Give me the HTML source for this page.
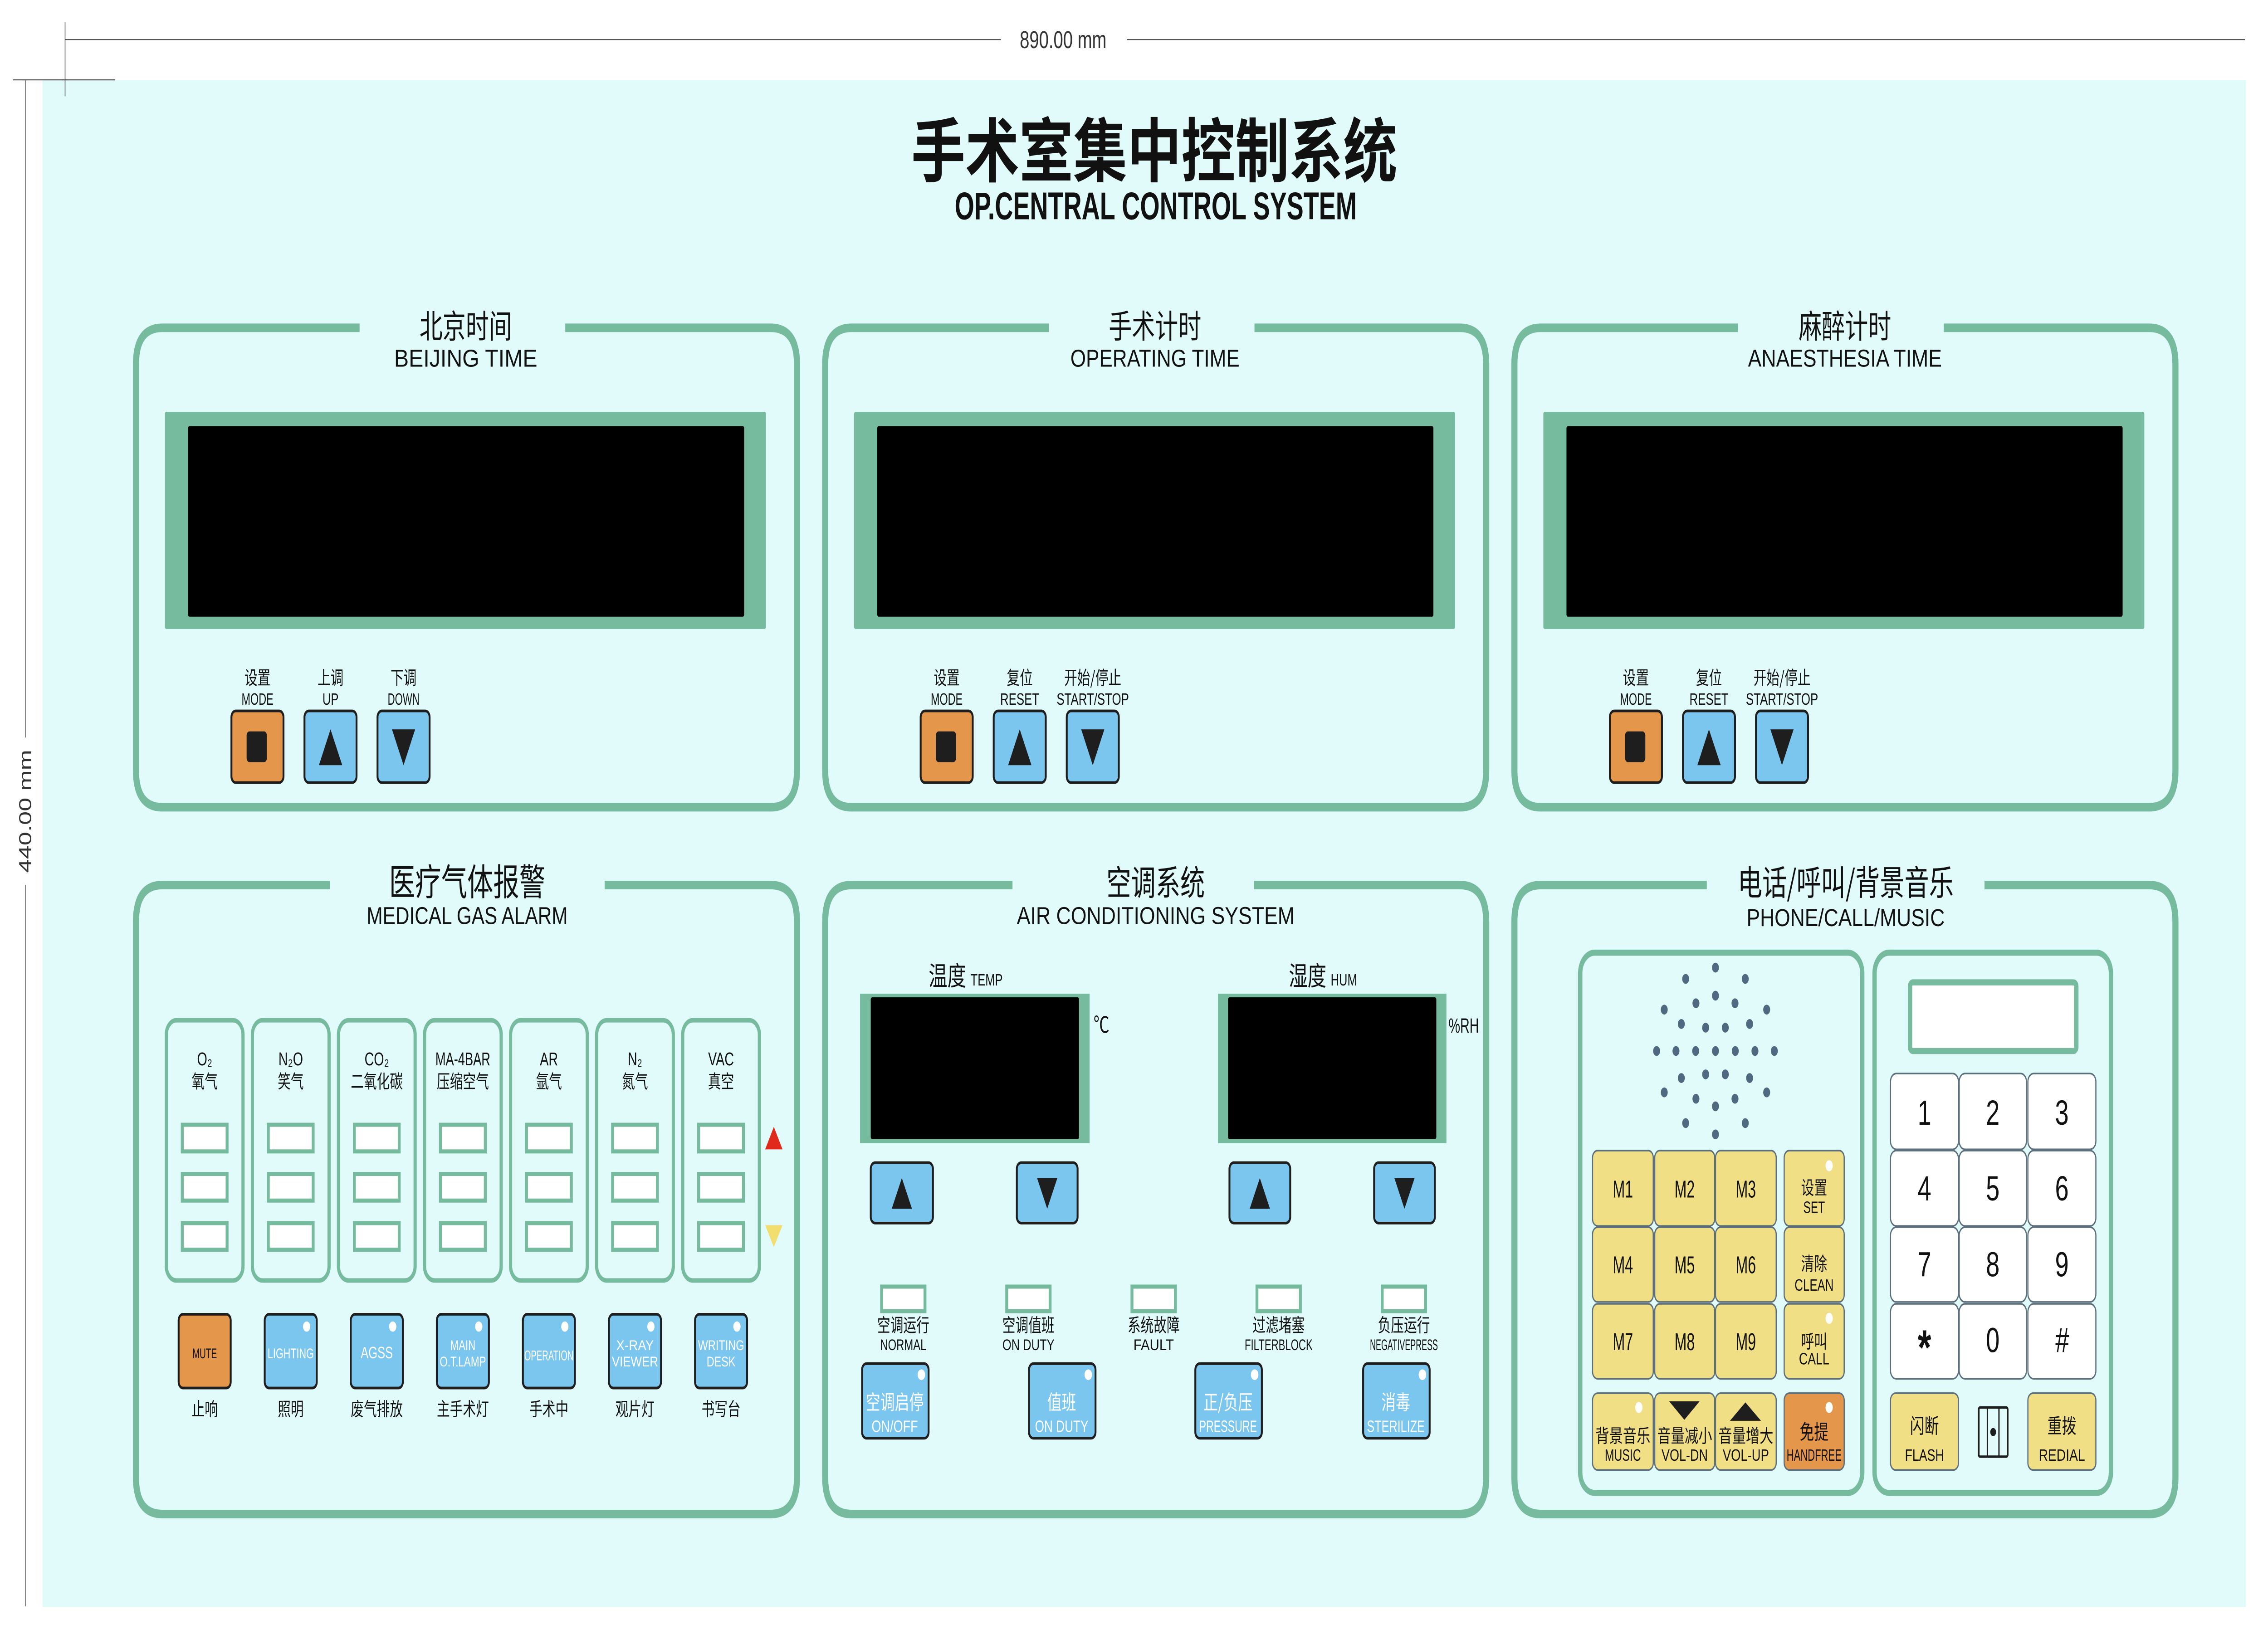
<!DOCTYPE html>
<html><head><meta charset="utf-8"><style>
html,body{margin:0;padding:0;background:#fff;width:100%;height:100%;overflow:hidden;}
svg{display:block;width:100vw;height:100vh;}
text{font-family:"Liberation Sans","Noto Sans CJK SC",sans-serif;}
.cn{font-family:"Noto Sans CJK SC","WenQuanYi Zen Hei",sans-serif;}
.pn{fill:none;stroke:#77bb9f;stroke-width:4.2;}
.g{fill:#77bb9f;}
.bl{fill:#7ac6ef;stroke:#1e1e1e;stroke-width:1.3;}
.or{fill:#e4964b;stroke:#1e1e1e;stroke-width:1.3;}
.ye{fill:#f1df85;stroke:#5c6f7c;stroke-width:0.8;}
.wk{fill:#fff;stroke:#5c6f7c;stroke-width:0.8;}
.lb{fill:#fff;stroke:#77bb9f;stroke-width:2;}
.col{fill:none;stroke:#77bb9f;stroke-width:2.2;}
</style></head><body>
<svg viewBox="0 0 1568 800" preserveAspectRatio="none" xmlns="http://www.w3.org/2000/svg">
<rect x="0" y="0" width="1568" height="800" fill="#fff"/>
<rect x="29.4" y="39" width="1523.4" height="745.5" fill="#e0fbfa"/>
<g stroke="#555" stroke-width="0.5" fill="none">
<line x1="45" y1="10.7" x2="45" y2="47"/>
<line x1="45" y1="19.3" x2="692" y2="19.3"/>
<line x1="779" y1="19.3" x2="1552" y2="19.3"/>
<line x1="9" y1="39" x2="79.6" y2="39"/>
<line x1="17.5" y1="39" x2="17.5" y2="360"/>
<line x1="17.5" y1="432" x2="17.5" y2="784"/>
</g>
<text x="735" y="23.5" font-size="12" text-anchor="middle" fill="#333">890.00 mm</text>
<text x="21.5" y="396" font-size="12" text-anchor="middle" fill="#333" transform="rotate(-90 21.5 396)">440.00 mm</text>

<text class="cn" x="798" y="86" font-size="34" font-weight="bold" text-anchor="middle" fill="#111" textLength="336" lengthAdjust="spacingAndGlyphs">手术室集中控制系统</text>
<text x="799" y="107" font-size="19" font-weight="bold" text-anchor="middle" fill="#111" textLength="278" lengthAdjust="spacingAndGlyphs">OP.CENTRAL CONTROL SYSTEM</text>

<g id="tp1">
<path class="pn" d="M248.6,160 H112 Q94,160 94,178 V376 Q94,394 112,394 H533 Q551,394 551,376 V178 Q551,160 533,160 H390.8"/>
<rect class="g" x="114" y="201" width="415.5" height="106" rx="1"/>
<rect x="130" y="208" width="384.5" height="93" fill="#000" rx="1"/>
<rect class="or" x="160" y="347" width="36" height="35" rx="3"/>
<rect x="170.5" y="357" width="14" height="15" rx="2" fill="#1e1e1e"/>
<rect class="bl" x="210.5" y="347" width="36" height="35" rx="3"/>
<polygon points="220.5,373.5 236.6,373.5 228.5,356" fill="#1e1e1e"/>
<rect class="bl" x="261" y="347" width="36" height="35" rx="3"/>
<polygon points="271,356 287,356 279,373.5" fill="#1e1e1e"/>
</g>
<use href="#tp1" transform="translate(476.5,0)"/>
<use href="#tp1" transform="translate(953,0)"/>

<g fill="#111" text-anchor="middle">
<text class="cn" x="322" y="165" font-size="16">北京时间</text>
<text x="322" y="179" font-size="12" textLength="99" lengthAdjust="spacingAndGlyphs">BEIJING TIME</text>
<text class="cn" x="798.5" y="165" font-size="16">手术计时</text>
<text x="798.5" y="179" font-size="12" textLength="117" lengthAdjust="spacingAndGlyphs">OPERATING TIME</text>
<text class="cn" x="1275.5" y="165" font-size="16">麻醉计时</text>
<text x="1275.5" y="179" font-size="12" textLength="134" lengthAdjust="spacingAndGlyphs">ANAESTHESIA TIME</text>
</g>
<g fill="#111" text-anchor="middle" font-size="8">
<text class="cn" x="178" y="334" font-size="9">设置</text><text x="178" y="344" textLength="22" lengthAdjust="spacingAndGlyphs">MODE</text>
<text class="cn" x="228.5" y="334" font-size="9">上调</text><text x="228.5" y="344">UP</text>
<text class="cn" x="279" y="334" font-size="9">下调</text><text x="279" y="344" textLength="22" lengthAdjust="spacingAndGlyphs">DOWN</text>
<text class="cn" x="654.5" y="334" font-size="9">设置</text><text x="654.5" y="344" textLength="22" lengthAdjust="spacingAndGlyphs">MODE</text>
<text class="cn" x="705" y="334" font-size="9">复位</text><text x="705" y="344" textLength="27" lengthAdjust="spacingAndGlyphs">RESET</text>
<text class="cn" x="755.5" y="334" font-size="9">开始/停止</text><text x="755.5" y="344" textLength="50" lengthAdjust="spacingAndGlyphs">START/STOP</text>
<text class="cn" x="1131" y="334" font-size="9">设置</text><text x="1131" y="344" textLength="22" lengthAdjust="spacingAndGlyphs">MODE</text>
<text class="cn" x="1181.5" y="334" font-size="9">复位</text><text x="1181.5" y="344" textLength="27" lengthAdjust="spacingAndGlyphs">RESET</text>
<text class="cn" x="1232" y="334" font-size="9">开始/停止</text><text x="1232" y="344" textLength="50" lengthAdjust="spacingAndGlyphs">START/STOP</text>
</g>

<path class="pn" d="M228,432 H112 Q94,432 94,450 V721 Q94,739 112,739 H533 Q551,739 551,721 V450 Q551,432 533,432 H418"/>
<path class="pn" d="M700,432 H588.5 Q570.5,432 570.5,450 V721 Q570.5,739 588.5,739 H1009.5 Q1027.5,739 1027.5,721 V450 Q1027.5,432 1009.5,432 H867"/>
<path class="pn" d="M1180,432 H1065 Q1047,432 1047,450 V721 Q1047,739 1065,739 H1486 Q1504,739 1504,721 V450 Q1504,432 1486,432 H1372"/>

<g fill="#111" text-anchor="middle">
<text class="cn" x="323" y="437" font-size="18">医疗气体报警</text>
<text x="323" y="451" font-size="12" textLength="139" lengthAdjust="spacingAndGlyphs">MEDICAL GAS ALARM</text>
<text class="cn" x="799" y="437" font-size="17">空调系统</text>
<text x="799" y="451" font-size="12" textLength="192" lengthAdjust="spacingAndGlyphs">AIR CONDITIONING SYSTEM</text>
<text class="cn" x="1276" y="437" font-size="17">电话/呼叫/背景音乐</text>
<text x="1276" y="452" font-size="12" textLength="137" lengthAdjust="spacingAndGlyphs">PHONE/CALL/MUSIC</text>
</g>

<g id="gc">
<rect class="col" x="115" y="498" width="53" height="127" rx="7"/>
<rect class="lb" x="126" y="549" width="31" height="13"/>
<rect class="lb" x="126" y="573" width="31" height="13"/>
<rect class="lb" x="126" y="597" width="31" height="13"/>
</g>
<use href="#gc" transform="translate(59.5,0)"/>
<use href="#gc" transform="translate(119,0)"/>
<use href="#gc" transform="translate(178.5,0)"/>
<use href="#gc" transform="translate(238,0)"/>
<use href="#gc" transform="translate(297.5,0)"/>
<use href="#gc" transform="translate(357,0)"/>
<polygon points="529,561 541,561 535,550" fill="#e02a1c"/>
<polygon points="529,598 541,598 535,608.7" fill="#f2dd6f"/>
<g fill="#111" text-anchor="middle" font-size="9">
<text x="141.5" y="520">O₂</text><text class="cn" x="141.5" y="531">氧气</text>
<text x="201" y="520">N₂O</text><text class="cn" x="201" y="531">笑气</text>
<text x="260.5" y="520">CO₂</text><text class="cn" x="260.5" y="531">二氧化碳</text>
<text x="320" y="520" textLength="38" lengthAdjust="spacingAndGlyphs">MA-4BAR</text><text class="cn" x="320" y="531">压缩空气</text>
<text x="379.5" y="520">AR</text><text class="cn" x="379.5" y="531">氩气</text>
<text x="439" y="520">N₂</text><text class="cn" x="439" y="531">氮气</text>
<text x="498.5" y="520">VAC</text><text class="cn" x="498.5" y="531">真空</text>
</g>
<rect class="or" x="123.5" y="641.5" width="36" height="36" rx="3"/>
<g id="gb"><rect class="bl" x="183" y="641.5" width="36" height="36" rx="3"/><circle cx="212" cy="647.5" r="2.5" fill="#fff"/></g>
<use href="#gb" transform="translate(59.5,0)"/>
<use href="#gb" transform="translate(119,0)"/>
<use href="#gb" transform="translate(178.5,0)"/>
<use href="#gb" transform="translate(238,0)"/>
<use href="#gb" transform="translate(297.5,0)"/>
<g text-anchor="middle" font-size="7">
<text x="141.5" y="663" fill="#111" textLength="17" lengthAdjust="spacingAndGlyphs">MUTE</text>
<g fill="#fff">
<text x="201" y="663" textLength="32" lengthAdjust="spacingAndGlyphs">LIGHTING</text>
<text x="260.5" y="663" font-size="8">AGSS</text>
<text x="320" y="659">MAIN</text><text x="320" y="667" textLength="32" lengthAdjust="spacingAndGlyphs">O.T.LAMP</text>
<text x="379.5" y="664" textLength="34" lengthAdjust="spacingAndGlyphs">OPERATION</text>
<text x="439" y="659" textLength="26" lengthAdjust="spacingAndGlyphs">X-RAY</text><text x="439" y="667" textLength="32" lengthAdjust="spacingAndGlyphs">VIEWER</text>
<text x="498.5" y="659" textLength="32" lengthAdjust="spacingAndGlyphs">WRITING</text><text x="498.5" y="667" textLength="20" lengthAdjust="spacingAndGlyphs">DESK</text>
</g>
<g fill="#111" font-size="9">
<text class="cn" x="141.5" y="691">止响</text>
<text class="cn" x="201" y="691">照明</text>
<text class="cn" x="260.5" y="691">废气排放</text>
<text class="cn" x="320" y="691">主手术灯</text>
<text class="cn" x="379.5" y="691">手术中</text>
<text class="cn" x="439" y="691">观片灯</text>
<text class="cn" x="498.5" y="691">书写台</text>
</g>
</g>

<text class="cn" x="642" y="481" font-size="13" fill="#111">温度<tspan font-family="Liberation Sans" font-size="8" dx="3">TEMP</tspan></text>
<text class="cn" x="891" y="481" font-size="13" fill="#111">湿度<tspan font-family="Liberation Sans" font-size="8" dx="3">HUM</tspan></text>
<rect class="g" x="594.6" y="485" width="158.7" height="73"/>
<rect x="602" y="486.8" width="144" height="69.2" fill="#000" rx="1"/>
<rect class="g" x="842" y="485" width="158" height="73"/>
<rect x="849" y="486.8" width="144" height="69.2" fill="#000" rx="1"/>
<text x="756" y="504" font-size="11" fill="#111">℃</text>
<text x="1001.5" y="504" font-size="10" fill="#111" textLength="21" lengthAdjust="spacingAndGlyphs">%RH</text>
<rect class="bl" x="602" y="567.5" width="43" height="29.5" rx="3"/>
<polygon points="616.5,590 630.5,590 623.5,575" fill="#1e1e1e"/>
<rect class="bl" x="703" y="567.5" width="42" height="29.5" rx="3"/>
<polygon points="717,575 731,575 724,590" fill="#1e1e1e"/>
<rect class="bl" x="850" y="567.5" width="42" height="29.5" rx="3"/>
<polygon points="864,590 878,590 871,575" fill="#1e1e1e"/>
<rect class="bl" x="950" y="567.5" width="42" height="29.5" rx="3"/>
<polygon points="964,575 978,575 971,590" fill="#1e1e1e"/>
<rect class="lb" x="609.5" y="628" width="30" height="12"/>
<rect class="lb" x="696" y="628" width="30" height="12"/>
<rect class="lb" x="782.6" y="628" width="30" height="12"/>
<rect class="lb" x="869" y="628" width="30" height="12"/>
<rect class="lb" x="955.6" y="628" width="30" height="12"/>
<g fill="#111" text-anchor="middle">
<g font-size="9">
<text class="cn" x="624.5" y="650">空调运行</text>
<text class="cn" x="711" y="650">空调值班</text>
<text class="cn" x="797.6" y="650">系统故障</text>
<text class="cn" x="884" y="650">过滤堵塞</text>
<text class="cn" x="970.6" y="650">负压运行</text>
</g>
<g font-size="7.5">
<text x="624.5" y="659" textLength="32" lengthAdjust="spacingAndGlyphs">NORMAL</text>
<text x="711" y="659" textLength="36" lengthAdjust="spacingAndGlyphs">ON DUTY</text>
<text x="797.6" y="659" textLength="28" lengthAdjust="spacingAndGlyphs">FAULT</text>
<text x="884" y="659" textLength="47" lengthAdjust="spacingAndGlyphs">FILTERBLOCK</text>
<text x="970.6" y="659" textLength="47" lengthAdjust="spacingAndGlyphs">NEGATIVEPRESS</text>
</g>
</g>
<g id="ab"><rect class="bl" x="596" y="665.6" width="46" height="36.4" rx="3"/><circle cx="637" cy="671" r="2.6" fill="#fff"/></g>
<use href="#ab" transform="translate(115.4,0)"/>
<use href="#ab" transform="translate(230.4,0)"/>
<use href="#ab" transform="translate(346.4,0)"/>
<g fill="#fff" text-anchor="middle">
<text class="cn" x="618.6" y="688" font-size="10" textLength="40" lengthAdjust="spacingAndGlyphs">空调启停</text>
<text x="618.6" y="699" font-size="8" textLength="32" lengthAdjust="spacingAndGlyphs">ON/OFF</text>
<text class="cn" x="734" y="688" font-size="10">值班</text>
<text x="734" y="699" font-size="8" textLength="37" lengthAdjust="spacingAndGlyphs">ON DUTY</text>
<text class="cn" x="849" y="688" font-size="10">正/负压</text>
<text x="849" y="699" font-size="8" textLength="40" lengthAdjust="spacingAndGlyphs">PRESSURE</text>
<text class="cn" x="965" y="688" font-size="10">消毒</text>
<text x="965" y="699" font-size="8" textLength="40" lengthAdjust="spacingAndGlyphs">STERILIZE</text>
</g>

<rect x="1092.5" y="465" width="195" height="263.7" rx="10" fill="none" stroke="#77bb9f" stroke-width="3"/>
<rect x="1296" y="465" width="163.4" height="263.7" rx="10" fill="none" stroke="#77bb9f" stroke-width="3"/>
<g fill="#4f6a80" transform="translate(1186,513)">
<circle cx="0" cy="-40.7" r="2.4"/>
<circle cx="-20.6" cy="-35.2" r="2.4"/><circle cx="20.6" cy="-35.2" r="2.4"/>
<circle cx="0" cy="-27" r="2.4"/>
<circle cx="-13.5" cy="-23.3" r="2.4"/><circle cx="13.5" cy="-23.3" r="2.4"/>
<circle cx="-35.4" cy="-20.2" r="2.4"/><circle cx="35.4" cy="-20.2" r="2.4"/>
<circle cx="-23.6" cy="-13.2" r="2.4"/><circle cx="23.6" cy="-13.2" r="2.4"/>
<circle cx="-6.8" cy="-11.4" r="2.4"/><circle cx="6.8" cy="-11.4" r="2.4"/>
<circle cx="-40.7" cy="0" r="2.4"/><circle cx="-27.3" cy="0" r="2.4"/><circle cx="-13.7" cy="0" r="2.4"/><circle cx="0" cy="0" r="2.4"/><circle cx="13.7" cy="0" r="2.4"/><circle cx="27.3" cy="0" r="2.4"/><circle cx="40.7" cy="0" r="2.4"/>
<circle cx="-6.8" cy="11.4" r="2.4"/><circle cx="6.8" cy="11.4" r="2.4"/>
<circle cx="-23.6" cy="13.2" r="2.4"/><circle cx="23.6" cy="13.2" r="2.4"/>
<circle cx="-35.4" cy="20.2" r="2.4"/><circle cx="35.4" cy="20.2" r="2.4"/>
<circle cx="-13.5" cy="23.3" r="2.4"/><circle cx="13.5" cy="23.3" r="2.4"/>
<circle cx="0" cy="27" r="2.4"/>
<circle cx="-20.6" cy="35.2" r="2.4"/><circle cx="20.6" cy="35.2" r="2.4"/>
<circle cx="0" cy="40.7" r="2.4"/>
</g>
<rect class="ye" x="1101" y="561.6" width="42" height="36.8" rx="3.5"/>
<rect class="ye" x="1144" y="561.6" width="41.5" height="36.8" rx="3.5"/>
<rect class="ye" x="1186" y="561.6" width="42" height="36.8" rx="3.5"/>
<rect class="ye" x="1233.5" y="561.6" width="41.5" height="36.8" rx="3.5"/>
<rect class="ye" x="1101" y="599" width="42" height="36.5" rx="3.5"/>
<rect class="ye" x="1144" y="599" width="41.5" height="36.5" rx="3.5"/>
<rect class="ye" x="1186" y="599" width="42" height="36.5" rx="3.5"/>
<rect class="ye" x="1233.5" y="599" width="41.5" height="36.5" rx="3.5"/>
<rect class="ye" x="1101" y="636.4" width="42" height="36.6" rx="3.5"/>
<rect class="ye" x="1144" y="636.4" width="41.5" height="36.6" rx="3.5"/>
<rect class="ye" x="1186" y="636.4" width="42" height="36.6" rx="3.5"/>
<rect class="ye" x="1233.5" y="636.4" width="41.5" height="36.6" rx="3.5"/>
<rect class="ye" x="1101" y="680" width="42" height="37.5" rx="3.5"/>
<rect class="ye" x="1144" y="680" width="41.5" height="37.5" rx="3.5"/>
<rect class="ye" x="1186" y="680" width="42" height="37.5" rx="3.5"/>
<rect x="1233.5" y="680" width="41.5" height="37.5" rx="3.5" fill="#e4964b" stroke="#5c6f7c" stroke-width="0.8"/>
<rect class="ye" x="1307" y="680" width="47" height="37.5" rx="3.5"/>
<rect class="ye" x="1402" y="680" width="47" height="37.5" rx="3.5"/>
<g fill="#fff">
<ellipse cx="1264.6" cy="569" rx="2.5" ry="2.7"/>
<ellipse cx="1264.6" cy="643.5" rx="2.5" ry="2.7"/>
<ellipse cx="1133" cy="687" rx="2.5" ry="2.7"/>
<ellipse cx="1264.6" cy="687" rx="2.5" ry="2.7"/>
</g>
<polygon points="1154,684 1175,684 1164.5,693" fill="#1e1e1e"/>
<polygon points="1196,693.5 1217.5,693.5 1206.7,684.5" fill="#1e1e1e"/>
<g fill="#111" text-anchor="middle" font-size="12">
<text x="1122" y="584.5" textLength="14" lengthAdjust="spacingAndGlyphs">M1</text>
<text x="1164.7" y="584.5" textLength="14" lengthAdjust="spacingAndGlyphs">M2</text>
<text x="1207" y="584.5" textLength="14" lengthAdjust="spacingAndGlyphs">M3</text>
<text x="1122" y="621.5" textLength="14" lengthAdjust="spacingAndGlyphs">M4</text>
<text x="1164.7" y="621.5" textLength="14" lengthAdjust="spacingAndGlyphs">M5</text>
<text x="1207" y="621.5" textLength="14" lengthAdjust="spacingAndGlyphs">M6</text>
<text x="1122" y="659" textLength="14" lengthAdjust="spacingAndGlyphs">M7</text>
<text x="1164.7" y="659" textLength="14" lengthAdjust="spacingAndGlyphs">M8</text>
<text x="1207" y="659" textLength="14" lengthAdjust="spacingAndGlyphs">M9</text>
<g font-size="9">
<text class="cn" x="1254.2" y="583">设置</text><text x="1254.2" y="592" font-size="8" textLength="15" lengthAdjust="spacingAndGlyphs">SET</text>
<text class="cn" x="1254.2" y="620">清除</text><text x="1254.2" y="630" font-size="8" textLength="27" lengthAdjust="spacingAndGlyphs">CLEAN</text>
<text class="cn" x="1254.2" y="658">呼叫</text><text x="1254.2" y="666" font-size="8" textLength="21" lengthAdjust="spacingAndGlyphs">CALL</text>
<text class="cn" x="1122" y="704" textLength="38" lengthAdjust="spacingAndGlyphs">背景音乐</text><text x="1122" y="713" font-size="8" textLength="25" lengthAdjust="spacingAndGlyphs">MUSIC</text>
<text class="cn" x="1164.7" y="704" textLength="38" lengthAdjust="spacingAndGlyphs">音量减小</text><text x="1164.7" y="713" font-size="8" textLength="32" lengthAdjust="spacingAndGlyphs">VOL-DN</text>
<text class="cn" x="1207" y="704" textLength="38" lengthAdjust="spacingAndGlyphs">音量增大</text><text x="1207" y="713" font-size="8" textLength="32" lengthAdjust="spacingAndGlyphs">VOL-UP</text>
<text class="cn" x="1254.2" y="702.5" font-size="10">免提</text><text x="1254.2" y="713" font-size="8" textLength="38" lengthAdjust="spacingAndGlyphs">HANDFREE</text>
<text class="cn" x="1330.5" y="699.5" font-size="10">闪断</text><text x="1330.5" y="713" font-size="8" textLength="27" lengthAdjust="spacingAndGlyphs">FLASH</text>
<text class="cn" x="1425.5" y="699.5" font-size="10">重拨</text><text x="1425.5" y="713" font-size="8" textLength="32" lengthAdjust="spacingAndGlyphs">REDIAL</text>
</g>
</g>
<rect x="1368" y="687" width="20" height="24" rx="1" fill="none" stroke="#1e1e1e" stroke-width="1.2"/>
<line x1="1374" y1="687" x2="1374" y2="711" stroke="#1e1e1e" stroke-width="0.9"/>
<line x1="1382" y1="687" x2="1382" y2="711" stroke="#1e1e1e" stroke-width="0.9"/>
<circle cx="1378" cy="699" r="2" fill="#1e1e1e"/>
<rect x="1320.5" y="479.5" width="115" height="33.5" rx="2" fill="#fff" stroke="#77bb9f" stroke-width="3"/>
<rect class="wk" x="1307" y="524" width="47" height="37" rx="4"/>
<rect class="wk" x="1354.5" y="524" width="46.5" height="37" rx="4"/>
<rect class="wk" x="1402" y="524" width="47" height="37" rx="4"/>
<rect class="wk" x="1307" y="561.6" width="47" height="36.8" rx="4"/>
<rect class="wk" x="1354.5" y="561.6" width="46.5" height="36.8" rx="4"/>
<rect class="wk" x="1402" y="561.6" width="47" height="36.8" rx="4"/>
<rect class="wk" x="1307" y="599" width="47" height="36.5" rx="4"/>
<rect class="wk" x="1354.5" y="599" width="46.5" height="36.5" rx="4"/>
<rect class="wk" x="1402" y="599" width="47" height="36.5" rx="4"/>
<rect class="wk" x="1307" y="636.4" width="47" height="36.6" rx="4"/>
<rect class="wk" x="1354.5" y="636.4" width="46.5" height="36.6" rx="4"/>
<rect class="wk" x="1402" y="636.4" width="47" height="36.6" rx="4"/>
<g fill="#111" text-anchor="middle" font-size="17">
<text x="1330.5" y="549" font-family="Liberation Serif">1</text>
<text x="1377.7" y="549" font-family="Liberation Serif">2</text>
<text x="1425.5" y="549" font-family="Liberation Serif">3</text>
<text x="1330.5" y="586" font-family="Liberation Serif">4</text>
<text x="1377.7" y="586" font-family="Liberation Serif">5</text>
<text x="1425.5" y="586" font-family="Liberation Serif">6</text>
<text x="1330.5" y="623" font-family="Liberation Serif">7</text>
<text x="1377.7" y="623" font-family="Liberation Serif">8</text>
<text x="1425.5" y="623" font-family="Liberation Serif">9</text>
<text x="1330.5" y="666" font-size="24" font-weight="bold" font-family="Liberation Sans">*</text>
<text x="1377.7" y="660" font-family="Liberation Serif">0</text>
<text x="1425.5" y="660" font-family="Liberation Serif" font-style="italic">#</text>
</g>
</svg>
</body></html>
